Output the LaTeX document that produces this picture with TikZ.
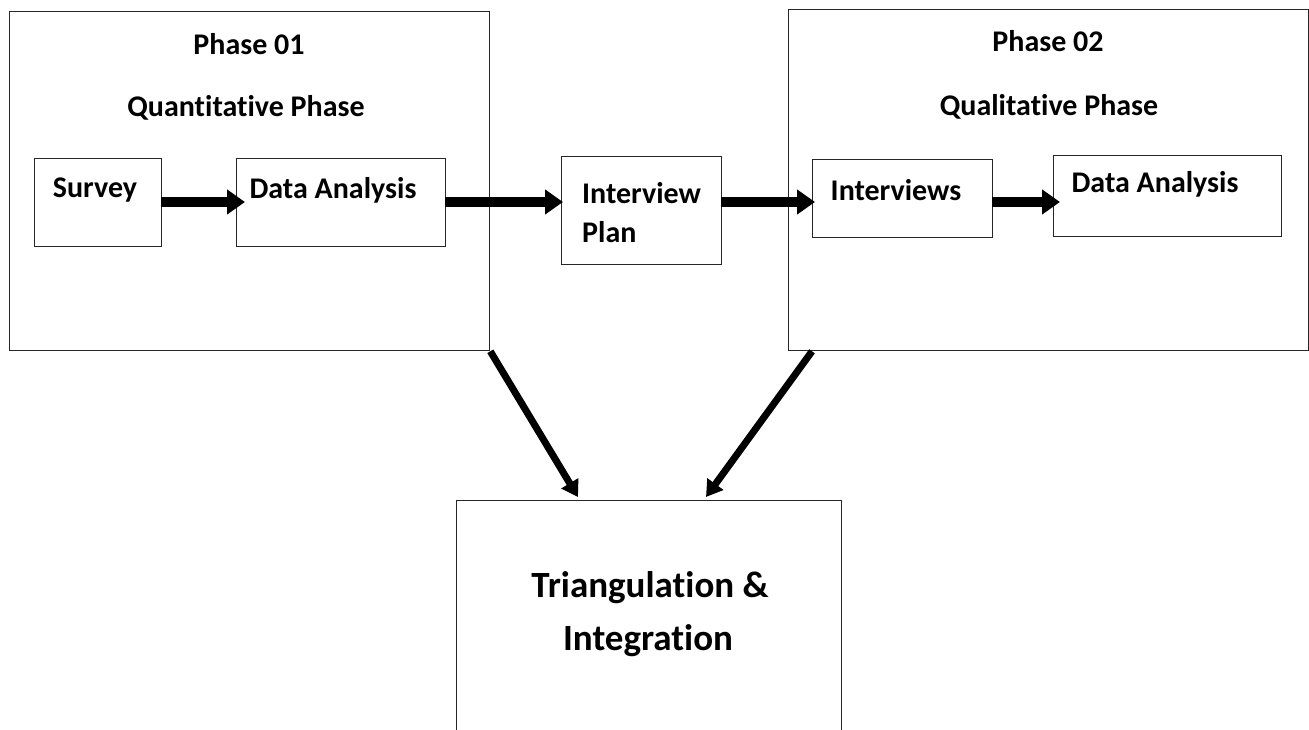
\documentclass[tikz,border=0pt]{standalone}
\usepackage{fontspec}
\setmainfont{Carlito}[Ligatures=NoCommon]
\usetikzlibrary{arrows.meta}
\begin{document}
\begin{tikzpicture}[x=1pt,y=-1pt,
  box/.style={draw=black!85,line width=1.3pt,inner sep=0pt,anchor=north west},
  lbl/.style={font=\fontsize{30}{36}\selectfont\bfseries,inner sep=0pt},
  big/.style={font=\fontsize{37}{44}\selectfont\bfseries,inner sep=0pt},
  harrow/.style={line width=10pt,-{Triangle[length=18pt,width=24pt]},shorten >=-2pt},
  darrow/.style={line width=7pt,-{Triangle[length=16pt,width=19pt]}}]
\clip (0,0) rectangle (1309,730);
\useasboundingbox (0,0) rectangle (1309,730);
\fill[white] (0,0) rectangle (1309,730);
% phase boxes
\node[box,minimum width=480pt,minimum height=339pt] (p1) at (9,11) {};
\node[box,minimum width=520pt,minimum height=341pt] (p2) at (788,9) {};
% inner boxes
\node[box,minimum width=127pt,minimum height=88pt] (sv) at (34,158) {};
\node[box,minimum width=209pt,minimum height=88pt] (da1) at (236,158) {};
\node[box,minimum width=160pt,minimum height=108pt] (ip) at (561,156) {};
\node[box,minimum width=180pt,minimum height=78pt] (iv) at (812,159) {};
\node[box,minimum width=228pt,minimum height=81pt] (da2) at (1053,155) {};
\node[box,minimum width=385pt,minimum height=300pt] (tri) at (456,500) {};
% texts
\node[lbl] (t1) at (249,44) {Phase 01};
\node[lbl] (t2) at (246,108) {Quantitative Phase};
\node[lbl] (t3) at (1048,41) {Phase 02};
\node[lbl] (t4) at (1049,107) {Qualitative Phase};
\node[lbl] (t5) at (95,190) {Survey};
\node[lbl] (t6) at (333,190) {Data Analysis};
\node[lbl,anchor=west] (t7) at (582,193) {Interview};
\node[lbl,anchor=west] (t8) at (582,232) {Plan};
\node[lbl] (t9) at (896,190) {Interviews};
\node[lbl] (t10) at (1155,184) {Data Analysis};
\node[big] (t11) at (650,588) {Triangulation \&};
\node[big] (t12) at (648,641) {Integration};
% arrows
\coordinate (a1s) at (161,202); \coordinate (a1e) at (243,202);
\coordinate (a2s) at (445,202); \coordinate (a2e) at (561,202);
\coordinate (a3s) at (721,202); \coordinate (a3e) at (813,202);
\coordinate (a4s) at (992,202); \coordinate (a4e) at (1058,202);
\draw[harrow] (a1s) -- (a1e);
\draw[harrow] (a2s) -- (a2e);
\draw[harrow] (a3s) -- (a3e);
\draw[harrow] (a4s) -- (a4e);
\draw[darrow] (p1.south east) -- (578,497);
\draw[darrow] (p2.south west) ++(24,0) -- (706,497);
\end{tikzpicture}
\end{document}
